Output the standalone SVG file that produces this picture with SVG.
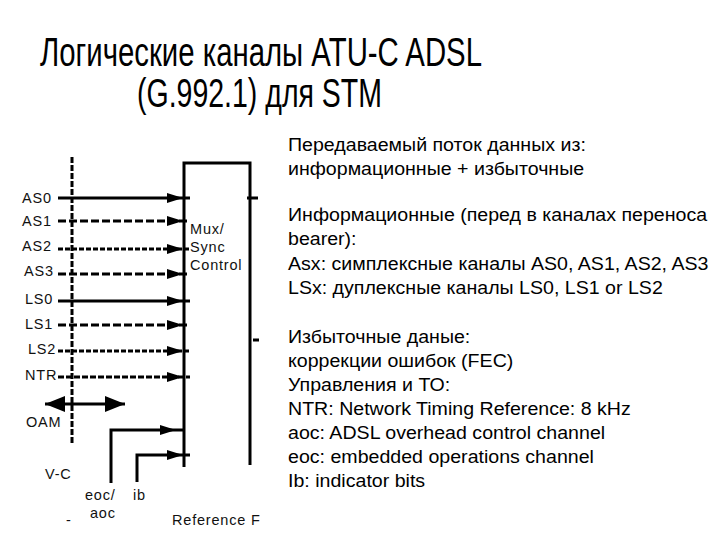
<svg xmlns="http://www.w3.org/2000/svg" width="720" height="540" viewBox="0 0 720 540">
<style>
  .title { font-family: "Liberation Sans", Arial, sans-serif; font-size: 40px; fill: #000; }
  .body { font-family: "Liberation Sans", Arial, sans-serif; font-size: 17.5px; fill: #000; }
  .lbl { font-family: "Liberation Sans", Arial, sans-serif; font-size: 14.5px; letter-spacing: 0.8px; fill: #111; }
  .ln { stroke: #000; stroke-width: 3; fill: none; }
  .dash { stroke-dasharray: 8 3; }
  .dot { stroke-dasharray: 5 2; }
</style>
<defs>
  <marker id="ah" viewBox="0 0 24 10" refX="23" refY="5" markerWidth="24" markerHeight="10" markerUnits="userSpaceOnUse" orient="auto">
    <path d="M0,0 L16,5 L0,10 z" fill="#000"/>
  </marker>
  <marker id="big" viewBox="0 0 20 16" refX="20" refY="8" markerWidth="20" markerHeight="16" markerUnits="userSpaceOnUse" orient="auto-start-reverse">
    <path d="M0,0 L20,8 L0,16 z" fill="#000"/>
  </marker>
</defs>
<rect width="720" height="540" fill="#fff"/>

<g id="title">
  <text class="title" x="40" y="66" textLength="442" lengthAdjust="spacingAndGlyphs">Логические каналы ATU-C ADSL</text>
  <text class="title" x="137" y="107" textLength="245" lengthAdjust="spacingAndGlyphs">(G.992.1) для STM</text>
</g>

<g id="mux-box">
  <path class="ln" d="M184,467 V163 H250 V465"/>
  <path class="ln" d="M247,198 H258 M253,340 H259"/>
  <text class="lbl" x="190" y="234">Mux/</text>
  <text class="lbl" x="190" y="252">Sync</text>
  <text class="lbl" x="190" y="270">Control</text>
</g>

<g id="vc-line">
  <path class="ln" d="M72,157 V445" stroke-dasharray="6 2" stroke-width="2.5"/>
</g>

<g id="connectors">
  <path class="ln" d="M58,198 H190" marker-end="url(#ah)"/>
  <path class="ln dash" d="M58,221 H190" marker-end="url(#ah)"/>
  <path class="ln dot" d="M58,249 H190" marker-end="url(#ah)"/>
  <path class="ln dash" d="M58,274 H190" marker-end="url(#ah)"/>
  <path class="ln" d="M58,301 H190" marker-end="url(#ah)"/>
  <path class="ln dash" d="M58,325 H190" marker-end="url(#ah)"/>
  <path class="ln dot" d="M58,351 H190" marker-end="url(#ah)"/>
  <path class="ln" d="M58,377 H190" stroke-dasharray="6 2" marker-end="url(#ah)"/>
  <path class="ln" d="M45,404 H125" marker-start="url(#big)" marker-end="url(#big)"/>
  <path class="ln" d="M111,483 V430 H183" marker-end="url(#ah)"/>
  <path class="ln" d="M137,482 V455 H190" stroke-width="3.5" marker-end="url(#ah)"/>
</g>

<g id="labels">
  <text class="lbl" x="22" y="203">AS0</text>
  <text class="lbl" x="22" y="226">AS1</text>
  <text class="lbl" x="22" y="251">AS2</text>
  <text class="lbl" x="24" y="276">AS3</text>
  <text class="lbl" x="25" y="304">LS0</text>
  <text class="lbl" x="25" y="329">LS1</text>
  <text class="lbl" x="28" y="354">LS2</text>
  <text class="lbl" x="25" y="380">NTR</text>
  <text class="lbl" x="26" y="427">OAM</text>
  <text class="lbl" x="45" y="479">V-C</text>
  <text class="lbl" x="85" y="500">eoc/</text>
  <text class="lbl" x="90" y="518">aoc</text>
  <text class="lbl" x="133" y="500">ib</text>
  <text class="lbl" x="172" y="525">Reference F</text>
  <text class="lbl" x="66" y="525">-</text>
</g>

<g id="description" transform="translate(288 0) scale(1.12 1)">
  <text class="body" x="0" y="151">Передаваемый поток данных из:</text>
  <text class="body" x="0" y="175">информационные + избыточные</text>
  <text class="body" x="0" y="221">Информационные (перед в каналах переноса</text>
  <text class="body" x="0" y="245">bearer):</text>
  <text class="body" x="0" y="270">Asx: симплексные каналы  AS0, AS1, AS2, AS3</text>
  <text class="body" x="0" y="294">LSx: дуплексные каналы LS0, LS1 or LS2</text>
  <text class="body" x="0" y="343">Избыточные даные:</text>
  <text class="body" x="0" y="367">коррекции ошибок (FEC)</text>
  <text class="body" x="0" y="391">Управления и ТО:</text>
  <text class="body" x="0" y="415">NTR: Network Timing Reference: 8 kHz</text>
  <text class="body" x="0" y="439">aoc: ADSL overhead control channel</text>
  <text class="body" x="0" y="463">eoc: embedded operations channel</text>
  <text class="body" x="0" y="487">Ib: indicator bits</text>
</g>
</svg>
